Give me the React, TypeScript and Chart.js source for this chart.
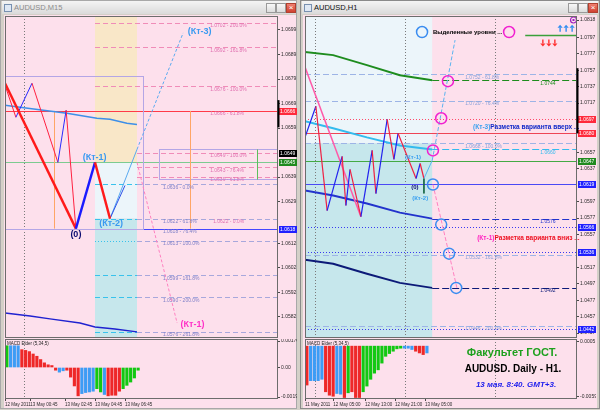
import { useEffect, useRef } from 'react';
import { Chart, registerables } from 'chart.js';

Chart.register(...registerables);

const FONT = "'Liberation Sans', Arial, sans-serif";
Chart.defaults.font.family = FONT;

/* ================= LEFT WINDOW : AUDUSD,M15 ================= */
const L_X_MAX = 72.8;
const L_PRICE_MIN = 1.05734;
const L_PRICE_MAX = 1.07047;
const L_PRICE_TICKS = [1.0699, 1.0689, 1.0679, 1.0669, 1.0659, 1.0639, 1.0629, 1.0612, 1.0602, 1.0592, 1.0582];
const L_TIME_TICKS = [0, 6.7, 16, 24, 32];
const L_TIME_LABELS = ['12 May 2011', '13 May 00:45', '13 May 02:45', '13 May 04:45', '13 May 06:45'];
const L_GRID_X = [5.1];

const L_SWING_X = [0, 2.9, 7.2, 14.1, 16.3, 18.9];
const L_SWING_Y = [1.06765, 1.06634, 1.06773, 1.0645, 1.06663, 1.0618];
const L_WAVE_X = [0, 18.9, 24, 28];
const L_WAVE_Y = [1.06773, 1.0618, 1.0645, 1.06221];
const L_UP_X = [28, 35.2, 47.5];
const L_UP_Y = [1.06221, 1.06503, 1.06978];
const L_UP2_X = [28, 32];
const L_UP2_Y = [1.06221, 1.06356];
const L_DOWN_X = [35.2, 45.9];
const L_DOWN_Y = [1.0645, 1.05795];
const L_MA1_X = [0, 4, 16.5, 24.5, 28, 32.5, 35.2];
const L_MA1_Y = [1.06683, 1.06675, 1.0665, 1.0663, 1.06626, 1.0661, 1.06605];
const L_MA2_X = [0, 6.7, 12, 20, 24, 29.3, 35.2];
const L_MA2_Y = [1.05836, 1.05824, 1.05812, 1.05795, 1.05779, 1.05771, 1.05759];

const L_ZONE_X = [24, 35.2];
const L_ZONE_PRICES = [1.0645, 1.06221];
const L_BOX1 = [0, 37, 1.06802, 1.0618];
const L_BOX2 = [41, 72.8, 1.06503, 1.0638];
const L_BOX2_MARK_X = 67.2;
const L_TIME_MARKS_X = [13, 49.3];
const L_TIME_MARKS_Y = [1.0666, 1.0618];

const L_LEVEL_RED = 1.0666;
const L_LEVEL_GREEN = 1.0645;
const L_LEVEL_BLUE = 1.0618;

const L_FIB_A = [1.0702, 1.0692, 1.0676, 1.0666];
const L_FIB_A_TEXT = ['1.0702 - 200.0%', '1.0692 - 161.8%', '1.0676 - 100.0%', '1.0666 - 61.8%'];
const L_FIB_B = [1.0649, 1.0643, 1.0639];
const L_FIB_B_TEXT = ['1.0649 - 100.0%', '1.0643 - 76.4%', '1.0639 - 61.8%'];
const L_FIB_C = [1.0636, 1.0622, 1.0618, 1.0613, 1.0599, 1.059, 1.0576];
const L_FIB_C_TEXT = ['1.0636 - 0.0%', '1.0622 - 61.8%', '1.0618 - 76.4%', '1.0613 - 100.0%', '1.0599 - 161.8%', '1.0590 - 200.0%', '1.0576 - 261.8%'];
const L_FIB_ZERO = 1.0622;
const L_FIB_ZERO_TEXT = '1.0622 - 0.0%';

const L_AXIS_PRICES = [1.0666, 1.0649, 1.0645, 1.0618];
const L_AXIS_TEXT = ['1.0666', '1.0649', '1.0645', '1.0618'];
const L_AXIS_BAR = [1.06704, 1.06593];

const L_TAGS = ['(Кт-3)', '(Кт-1)', '(0)', '(Кт-2)', '(Кт-1)'];
const L_TAGS_X = [51.9, 23.9, 18.9, 28.3, 50];
const L_TAGS_Y = [1.06982, 1.0647, 1.06155, 1.062, 1.05787];

const L_MACD = [0.00145, 0.00145, 0.00145, 0.00145, 0.00119, 0.00114, 0.00106, 0.0009, 0.00075, 0.00053, 0.00031, 0.00018, 0.00013, -0.00018,
  -0.00031, -0.00022, -0.00018, -0.00064, -0.00123, -0.00189, -0.00174, -0.00167, -0.00163, -0.00158, -0.00141, -0.00163, -0.0018,
  -0.00189, -0.00185, -0.00185, -0.00158, -0.00141, -0.00119, -0.00097, -0.0007, -0.00018];
const L_MACD_STATE = 'gbbbrrrrrrrrrrbbrrrrbbbbggbrrrrggggg';
const L_MACD_MIN = -0.0021;
const L_MACD_MAX = 0.0019;
const L_MACD_TICKS = [0.00176, 0, -0.00197];
const L_MACD_LABELS = ['0.00176', '0.00', '-0.00197'];

/* ================= RIGHT WINDOW : AUDUSD,H1 ================= */
const R_X_MAX = 72.5;
const R_PRICE_MIN = 1.0431;
const R_PRICE_MAX = 1.08229;
const R_PRICE_TICKS = [1.0818, 1.0797, 1.0777, 1.0757, 1.0737, 1.0717, 1.0657, 1.0637, 1.0597, 1.0577, 1.0557, 1.0517, 1.0497, 1.0477, 1.0457, 1.0437];
const R_TIME_TICKS = [0, 7.5, 16, 24, 32];
const R_TIME_LABELS = ['11 May 2011', '12 May 05:00', '12 May 13:00', '12 May 21:00', '13 May 05:00'];
const R_GRID_X = [2.7, 26.7, 50.7];

const R_ZONE_X = 33.9;
const R_ZONE_PRICE = 1.0668;

const R_MA_X = [0, 7.5, 16.5, 25.3, 33.9];
const R_MA_GREEN = [1.0779, 1.07753, 1.07631, 1.07509, 1.07448];
const R_MA_CYAN = [1.06947, 1.06862, 1.06752, 1.06654, 1.06605];
const R_MA_BLUE = [1.06105, 1.06044, 1.05946, 1.05836, 1.05763];
const R_MA_NAVY = [1.05262, 1.05213, 1.05091, 1.04981, 1.0492];
const R_MA_TEXT = ['1.0744', '1.0660', '1.0576', '1.0492'];

const R_SWING_X = [0, 2.9, 5.9, 9.9, 10.9, 12, 14.9, 17.9, 18.9, 21.9, 23.7, 24.8, 29.6, 30.7, 31.7];
const R_SWING_Y = [1.06752, 1.0713, 1.05861, 1.0652, 1.05922, 1.06361, 1.05787, 1.06593, 1.06068, 1.06972, 1.06483, 1.06801, 1.06251, 1.06434, 1.06251];
const R_PINK_X = [0, 14.9];
const R_PINK_Y = [1.07607, 1.05787];
const R_UP_X = [31.7, 33.9, 40];
const R_UP_Y = [1.06251, 1.0647, 1.07936];
const R_DOWN_X = [34.1, 40.5];
const R_DOWN_Y = [1.06178, 1.0492];
const R_PIN_X = [31.7, 31.7];
const R_PIN_Y = [1.06251, 1.0607];

const R_MAG_X = [34.1, 36.3, 38.1];
const R_MAG_Y = [1.06593, 1.06984, 1.07436];
const R_BLU_X = [34.1, 36.3, 38.4, 40.3];
const R_BLU_Y = [1.06178, 1.0569, 1.05336, 1.0492];
const R_HEAD_BLUE_X = [31.2];
const R_HEAD_MAG_X = [54.4];
const R_HEAD_Y = [1.08034];
const R_HEAD_TEXT = 'Выделенные уровни ...';
const R_HEAD_TEXT_X = 34.1;

const R_FIB = [1.0752, 1.072, 1.0668, 1.0532, 1.0446];
const R_FIB_TEXT = ['1.0752 - 61.8%', '1.0720 - 76.4%', '1.0668 - 100.0%', '1.0532 - 161.8%', '1.0446 - 200.0%'];
const R_RED_DOTTED = 1.0697;
const R_RED = 1.068;
const R_GREEN = 1.0647;
const R_BLUE = 1.0619;
const R_BLUE_DOTTED = [1.0566, 1.0536, 1.0442];
const R_AXIS_PRICES = [1.0697, 1.068, 1.0647, 1.0619, 1.0566, 1.0536, 1.0442];
const R_AXIS_TEXT = ['1.0697', '1.0680', '1.0647', '1.0619', '1.0566', '1.0536', '1.0442'];
const R_AXIS_BAR = [1.07594, 1.068];
const R_TARGET = [58.7, 1.07997];
const R_ARROW_UP = [69.6, 1.08075];
const R_ARROW_DOWN = [65, 1.07905];

const R_TAGS = ['(Кт-1)', '(0)', '(Кт-2)'];
const R_TAGS_X = [28.8, 29.3, 30.7];
const R_TAGS_Y = [1.06508, 1.06141, 1.06007];
const R_NOTE_HEAD = ['(Кт-3)', '(Кт-1)'];
const R_NOTE_BODY = ['Разметка варианта вверх ...', 'Разметка варианта вниз ...'];
const R_NOTE_X = [44.8, 45.9];
const R_NOTE_Y = [1.0687, 1.05519];

const R_MACD = [-0.00452, -0.00401, -0.00401, -0.00401, -0.00385, -0.0053, -0.0057, -0.00582, -0.0055, -0.00558, -0.00597, -0.00542,
  -0.0053, -0.00597, -0.00597, -0.0053, -0.00464, -0.00385, -0.00314, -0.00275, -0.00197, -0.00118, -0.00086, -0.00059, -0.00031,
  -0.00024, -0.00024, -0.00024, -0.00039, -0.00059, -0.00079, -0.00098, -0.00079];
const R_MACD_STATE = 'rbbbbrrrbbrgrrrgggggggggggbbbrrrb';
const R_MACD_MIN = -0.00614;
const R_MACD_MAX = 0.00083;
const R_MACD_TICKS = [0.0005, -0.0059];
const R_MACD_LABELS = ['0.0005', '-0.0059'];

const BRAND = ['Факультет ГОСТ.', 'AUDUSD. Daily - H1.', '13 мая. 8:40. GMT+3.'];

/* ================= drawing helpers ================= */
type Area = { left: number; right: number; top: number; bottom: number };
type D = { ctx: CanvasRenderingContext2D; a: Area; X: (v: number) => number; Y: (v: number) => number };
type Draw = (d: D) => void;

const SMALL = `5px ${FONT}`;
const pts = (xs: number[], ys: number[]) => xs.map((x, i) => ({ x, y: ys[i] }));

function decor(id: string, under: Draw, over: Draw, top: Draw) {
  const run = (chart: any, fn: Draw) => {
    const ctx = chart.ctx as CanvasRenderingContext2D;
    const a = chart.chartArea as Area;
    const X = (v: number) => chart.scales.x.getPixelForValue(v);
    const Y = (v: number) => chart.scales.y.getPixelForValue(v);
    ctx.save();
    fn({ ctx, a, X, Y });
    ctx.restore();
  };
  return {
    id,
    beforeDatasetsDraw: (c: any) => run(c, under),
    afterDatasetsDraw: (c: any) => run(c, over),
    afterDraw: (c: any) => run(c, top),
  };
}

function seg(ctx: CanvasRenderingContext2D, x0: number, y0: number, x1: number, y1: number, color: string, w = 1, dash: number[] = []) {
  ctx.beginPath();
  ctx.strokeStyle = color;
  ctx.lineWidth = w;
  ctx.setLineDash(dash);
  ctx.moveTo(x0, y0);
  ctx.lineTo(x1, y1);
  ctx.stroke();
  ctx.setLineDash([]);
}
function hl(d: D, x0: number, x1: number, p: number, color: string, w = 1, dash: number[] = []) {
  const y = Math.round(d.Y(p)) + 0.5;
  seg(d.ctx, x0, y, x1, y, color, w, dash);
}
function vl(d: D, i: number, p0: number, p1: number, color: string, w = 1, dash: number[] = []) {
  const x = Math.round(d.X(i)) + 0.5;
  seg(d.ctx, x, d.Y(p0), x, d.Y(p1), color, w, dash);
}
function txt(ctx: CanvasRenderingContext2D, s: string, x: number, y: number, font: string, color: string, align: CanvasTextAlign = 'left') {
  ctx.font = font;
  ctx.fillStyle = color;
  ctx.textAlign = align;
  ctx.textBaseline = 'middle';
  ctx.fillText(s, x, y);
}
function clip(d: D) {
  d.ctx.beginPath();
  d.ctx.rect(d.a.left, d.a.top, d.a.right - d.a.left, d.a.bottom - d.a.top);
  d.ctx.clip();
}
function frame(d: D) {
  d.ctx.strokeStyle = '#6c6c6c';
  d.ctx.lineWidth = 1;
  d.ctx.strokeRect(d.a.left + 0.5, d.a.top + 0.5, d.a.right - d.a.left - 1, d.a.bottom - d.a.top - 1);
}
function axisTag(d: D, p: number, s: string, bg: string) {
  const y = Math.round(d.Y(p));
  d.ctx.fillStyle = bg;
  d.ctx.fillRect(d.a.right + 1, y - 3, 18, 7);
  txt(d.ctx, s, d.a.right + 2, y + 0.5, SMALL, '#ffffff');
}
function axisBar(d: D, p0: number, p1: number) {
  seg(d.ctx, d.a.right + 0.5, d.Y(p0), d.a.right + 0.5, d.Y(p1), '#000000', 2);
}
function gridX(d: D, xs: number[]) {
  xs.forEach((i) => {
    const x = Math.round(d.X(i)) + 0.5;
    seg(d.ctx, x, d.a.top, x, d.a.bottom, '#7a7a7a', 1, [1, 2]);
  });
}
function circle(ctx: CanvasRenderingContext2D, x: number, y: number, r: number, color: string, w = 1.5) {
  ctx.beginPath();
  ctx.strokeStyle = color;
  ctx.lineWidth = w;
  ctx.arc(x, y, r, 0, Math.PI * 2);
  ctx.stroke();
}
function arrows(ctx: CanvasRenderingContext2D, cx: number, cy: number, up: boolean, color: string) {
  ctx.fillStyle = color;
  ctx.strokeStyle = color;
  for (let k = -1; k <= 1; k++) {
    const x = cx + k * 6;
    const dir = up ? -1 : 1;
    ctx.beginPath();
    ctx.moveTo(x, cy + dir * 4);
    ctx.lineTo(x - 2.6, cy + dir * 1);
    ctx.lineTo(x + 2.6, cy + dir * 1);
    ctx.closePath();
    ctx.fill();
    ctx.lineWidth = 1.4;
    ctx.beginPath();
    ctx.moveTo(x, cy + dir * 1);
    ctx.lineTo(x, cy - dir * 3);
    ctx.stroke();
  }
}

const lineDs = (xs: number[], ys: number[], color: string, width: number, extra: any = {}) => ({
  type: 'line',
  data: pts(xs, ys),
  borderColor: color,
  borderWidth: width,
  pointRadius: 0,
  fill: false,
  tension: 0,
  ...extra,
});
const ringDs = (xs: number[], ys: number[], color: string) => ({
  type: 'line',
  data: pts(xs, ys),
  showLine: false,
  pointRadius: 5.5,
  pointBorderWidth: 1.5,
  pointBorderColor: color,
  pointBackgroundColor: 'rgba(0,0,0,0)',
});
const zigzag = (up: string, down: string) => ({
  borderColor: (c: any) => (c.p1.parsed.y > c.p0.parsed.y ? up : down),
});

function priceAxis(min: number, max: number, ticks: number[], labels?: string[]) {
  return {
    type: 'linear',
    position: 'right',
    min,
    max,
    afterBuildTicks: (s: any) => {
      s.ticks = ticks.map((v) => ({ value: v }));
    },
    afterFit: (s: any) => {
      s.width = 19;
      s.paddingTop = 0;
      s.paddingBottom = 0;
    },
    ticks: {
      autoSkip: false,
      padding: 1,
      color: '#2a2a2a',
      font: { size: 5, family: FONT },
      callback: (v: number, i: number) => (labels ? labels[i] : v.toFixed(4)),
    },
    grid: { drawOnChartArea: false, drawTicks: true, tickLength: 2, color: '#4a4a4a' },
    border: { display: false },
  };
}

function buildMain(canvas: HTMLCanvasElement, xMax: number, yMin: number, yMax: number, ticks: number[], datasets: any[], plugin: any) {
  return new Chart(canvas, {
    type: 'line',
    data: { datasets },
    options: {
      animation: false,
      responsive: false,
      maintainAspectRatio: false,
      layout: { padding: 0, autoPadding: false },
      plugins: { legend: { display: false }, tooltip: { enabled: false } },
      scales: {
        x: { type: 'linear', min: 0, max: xMax, display: false },
        y: priceAxis(yMin, yMax, ticks),
      },
    } as any,
    plugins: [plugin],
  } as any);
}

function buildMacd(
  canvas: HTMLCanvasElement, xMax: number, values: number[], states: string, yMin: number, yMax: number,
  ticks: number[], tickLabels: string[], timeTicks: number[], timeLabels: string[], grid: number[], overlay: Draw,
) {
  const colorOf = (s: string) => (s === 'g' ? '#12c812' : s === 'b' ? '#3d9cf5' : '#ee2828');
  return new Chart(canvas, {
    type: 'bar',
    data: {
      datasets: [
        {
          data: values.map((v, i) => ({ x: i + 0.5, y: v })),
          backgroundColor: states.split('').map(colorOf),
          barThickness: 2.5,
          borderWidth: 0,
        },
      ],
    },
    options: {
      animation: false,
      responsive: false,
      maintainAspectRatio: false,
      layout: { padding: 0, autoPadding: false },
      plugins: { legend: { display: false }, tooltip: { enabled: false } },
      scales: {
        x: {
          type: 'linear',
          min: 0,
          max: xMax,
          offset: false,
          position: 'bottom',
          afterBuildTicks: (s: any) => {
            s.ticks = timeTicks.map((v) => ({ value: v }));
          },
          afterFit: (s: any) => {
            s.height = 11;
            s.paddingLeft = 0;
            s.paddingRight = 0;
          },
          ticks: {
            autoSkip: false,
            maxRotation: 0,
            align: 'start',
            padding: 1,
            color: '#2a2a2a',
            font: { size: 4.5, family: FONT },
            callback: (_v: number, i: number) => timeLabels[i],
          },
          grid: { drawOnChartArea: false, drawTicks: true, tickLength: 2, color: '#4a4a4a', offset: false },
          border: { display: false },
        },
        y: priceAxis(yMin, yMax, ticks, tickLabels),
      },
    } as any,
    plugins: [
      decor(
        'macd' + Math.random(),
        (d) => gridX(d, grid),
        (d) => {
          frame(d);
          txt(d.ctx, 'MACD Elder (5,34,5)', d.a.left + 2, d.a.top + 5, `4.5px ${FONT}`, '#222');
          overlay(d);
        },
        () => {},
      ),
    ],
  } as any);
}

/* ================= left main ================= */
function buildLeft(canvas: HTMLCanvasElement) {
  const datasets = [
    lineDs(L_WAVE_X, L_WAVE_Y, '#ff1a1a', 2.4, { segment: zigzag('#1a1aff', '#ff1a1a') }),
    lineDs(L_SWING_X, L_SWING_Y, '#ff2040', 1, { segment: zigzag('#2a2aff', '#ff2040') }),
    lineDs(L_UP2_X, L_UP2_Y, '#3050e8', 1),
    lineDs(L_UP_X, L_UP_Y, '#5aaaf0', 1, { segment: { borderDash: (c: any) => (c.p0DataIndex >= 1 ? [3, 2] : undefined) } }),
    lineDs(L_DOWN_X, L_DOWN_Y, '#ff80c0', 1, { borderDash: [3, 2] }),
    lineDs(L_MA1_X, L_MA1_Y, '#3d8fe8', 1.5),
    lineDs(L_MA2_X, L_MA2_Y, '#1f22d0', 1.5),
  ];
  const plugin = decor(
    'leftDecor',
    (d) => {
      const { ctx, a, X, Y } = d;
      clip(d);
      const x0 = X(L_ZONE_X[0]);
      const x1 = X(L_ZONE_X[1]);
      ctx.fillStyle = '#f9e7c8';
      ctx.fillRect(x0, a.top, x1 - x0, Y(L_ZONE_PRICES[0]) - a.top);
      ctx.fillStyle = '#ecf5fa';
      ctx.fillRect(x0, Y(L_ZONE_PRICES[0]), x1 - x0, Y(L_ZONE_PRICES[1]) - Y(L_ZONE_PRICES[0]));
      ctx.fillStyle = '#c6e7ec';
      ctx.fillRect(x0, Y(L_ZONE_PRICES[1]), x1 - x0, a.bottom - Y(L_ZONE_PRICES[1]));
      gridX(d, L_GRID_X);
      L_FIB_A.forEach((p) => hl(d, x0, a.right, p, '#f08cb8', 1, [5, 3]));
      L_FIB_B.forEach((p) => hl(d, x1, a.right, p, '#f08cb8', 1, [5, 3]));
      L_FIB_C.forEach((p, i) => {
        hl(d, x0, x1, p, '#38c2ec', 1, i === 3 ? [1, 2] : [5, 3]);
        hl(d, x1, a.right, p, '#a8a8dc', 1, [5, 3]);
      });
      hl(d, a.left, a.right, L_LEVEL_RED, '#ff3a48', 1.2);
      hl(d, a.left, a.right, L_LEVEL_GREEN, '#7ccb90', 1);
      hl(d, a.left, a.right, L_LEVEL_BLUE, '#4646ff', 1.2);
      ctx.strokeStyle = '#b4a6e6';
      ctx.lineWidth = 1;
      [L_BOX1, L_BOX2].forEach((b) => {
        const bx = Math.round(X(b[0])) + 0.5;
        const by = Math.round(Y(b[2])) + 0.5;
        ctx.strokeRect(bx, by, Math.round(X(b[1]) - X(b[0])) - 1, Math.round(Y(b[3]) - Y(b[2])));
      });
      vl(d, L_BOX2_MARK_X, L_BOX2[2], L_BOX2[3], '#5cc05c');
      L_TIME_MARKS_X.forEach((i) => vl(d, i, L_TIME_MARKS_Y[0], L_TIME_MARKS_Y[1], '#ffa565'));
      const lx = X(54.7);
      L_FIB_A.forEach((p, i) => txt(ctx, L_FIB_A_TEXT[i], lx, Y(p) + 3, SMALL, '#e070b0'));
      L_FIB_B.forEach((p, i) => txt(ctx, L_FIB_B_TEXT[i], lx, Y(p) + 3, SMALL, '#e070b0'));
      const cx = X(42.1);
      L_FIB_C.forEach((p, i) => txt(ctx, L_FIB_C_TEXT[i], cx, Y(p) + 3, SMALL, '#8080c8'));
      txt(ctx, L_FIB_ZERO_TEXT, X(55.5), Y(L_FIB_ZERO) + 3, SMALL, '#e070b0');
    },
    (d) => {
      const { ctx, X, Y } = d;
      const colors = ['#3a9af0', '#3a9af0', '#0a0a70', '#3a9af0', '#ff30c8'];
      L_TAGS.forEach((s, i) => txt(ctx, s, X(L_TAGS_X[i]), Y(L_TAGS_Y[i]), `bold 9px ${FONT}`, colors[i], 'center'));
      frame(d);
    },
    (d) => {
      const colors = ['#ff2a3c', '#000000', '#1f8a1f', '#2020ff'];
      L_AXIS_PRICES.forEach((p, i) => axisTag(d, p, L_AXIS_TEXT[i], colors[i]));
      axisBar(d, L_AXIS_BAR[0], L_AXIS_BAR[1]);
    },
  );
  return buildMain(canvas, L_X_MAX, L_PRICE_MIN, L_PRICE_MAX, L_PRICE_TICKS, datasets, plugin);
}

/* ================= right main ================= */
function buildRight(canvas: HTMLCanvasElement) {
  const datasets = [
    ringDs(R_MAG_X, R_MAG_Y, '#f020d0'),
    ringDs(R_BLU_X, R_BLU_Y, '#3a8cf0'),
    ringDs(R_HEAD_BLUE_X, R_HEAD_Y, '#3a8cf0'),
    ringDs(R_HEAD_MAG_X, R_HEAD_Y, '#f020d0'),
    lineDs(R_UP_X, R_UP_Y, '#5ab4f0', 1, { segment: { borderDash: (c: any) => (c.p0DataIndex >= 1 ? [4, 2] : undefined) } }),
    lineDs(R_DOWN_X, R_DOWN_Y, '#ff80c0', 1, { borderDash: [4, 2] }),
    lineDs(R_PIN_X, R_PIN_Y, '#1a6a4a', 1),
    lineDs(R_SWING_X, R_SWING_Y, '#ee2244', 1.2, { segment: zigzag('#2222ee', '#ee2244') }),
    lineDs(R_PINK_X, R_PINK_Y, '#ff5aa8', 1.5),
    lineDs(R_MA_X, R_MA_GREEN, '#1e8c1e', 2),
    lineDs(R_MA_X, R_MA_CYAN, '#33bbee', 2),
    lineDs(R_MA_X, R_MA_BLUE, '#2233cc', 2),
    lineDs(R_MA_X, R_MA_NAVY, '#0c1a78', 2),
  ];
  const maColors = ['#1e8c1e', '#33bbee', '#2233cc', '#0c1a78'];
  const maEnds = [R_MA_GREEN, R_MA_CYAN, R_MA_BLUE, R_MA_NAVY].map((s) => s[s.length - 1]);
  const plugin = decor(
    'rightDecor',
    (d) => {
      const { ctx, a, X, Y } = d;
      clip(d);
      const xz = X(R_ZONE_X);
      ctx.fillStyle = '#ecf5fa';
      ctx.fillRect(a.left, a.top, xz - a.left, Y(R_ZONE_PRICE) - a.top);
      ctx.fillStyle = '#c6e7ec';
      ctx.fillRect(a.left, Y(R_ZONE_PRICE), xz - a.left, a.bottom - Y(R_ZONE_PRICE));
      gridX(d, R_GRID_X);
      R_FIB.forEach((p) => hl(d, a.left, a.right, p, '#9db4e6', 1, [6, 3]));
      hl(d, a.left, a.right, R_RED_DOTTED, '#ff4a6a', 1, [1, 2]);
      hl(d, a.left, a.right, R_RED, '#ee4455', 1);
      hl(d, a.left, a.right, R_GREEN, '#44aa44', 1);
      hl(d, a.left, a.right, R_BLUE, '#4a4af5', 1);
      R_BLUE_DOTTED.forEach((p) => hl(d, a.left, a.right, p, '#3a3af0', 1, [1, 2]));
      maEnds.forEach((p, i) => hl(d, xz, a.right, p, maColors[i], 1, [7, 3]));
      hl(d, X(R_TARGET[0]), a.right, R_TARGET[1], '#3aa03a', 1.5);
      const fx = X(42.7);
      R_FIB.forEach((p, i) => txt(ctx, R_FIB_TEXT[i], fx, Y(p) + 3, SMALL, '#8aa0d8'));
      const mx = X(62.7);
      maEnds.forEach((p, i) => txt(ctx, R_MA_TEXT[i], mx, Y(p) + 3, SMALL, maColors[i]));
    },
    (d) => {
      const { ctx, a, X, Y } = d;
      const tagColors = ['#3aa0f0', '#0a0a70', '#3aa0f0'];
      R_TAGS.forEach((s, i) => txt(ctx, s, X(R_TAGS_X[i]), Y(R_TAGS_Y[i]), `bold 6px ${FONT}`, tagColors[i], 'center'));
      const bold = `bold 6.5px ${FONT}`;
      txt(ctx, R_HEAD_TEXT, X(R_HEAD_TEXT_X), Y(R_HEAD_Y[0]), `bold 6px ${FONT}`, '#000000');
      const headColors = ['#3aa0f0', '#ff20c0'];
      const bodyColors = ['#1028c8', '#ee1020'];
      R_NOTE_HEAD.forEach((s, i) => {
        const x = X(R_NOTE_X[i]);
        const y = Y(R_NOTE_Y[i]);
        txt(ctx, s, x, y, bold, headColors[i]);
        ctx.font = bold;
        const w = ctx.measureText(s).width;
        txt(ctx, R_NOTE_BODY[i], x + w, y, bold, bodyColors[i]);
      });
      arrows(ctx, X(R_ARROW_UP[0]), Y(R_ARROW_UP[1]), true, '#2f8cf0');
      arrows(ctx, X(R_ARROW_DOWN[0]), Y(R_ARROW_DOWN[1]), false, '#ff3030');
      circle(ctx, a.right - 3.5, a.top + 4, 3, '#a020c0', 1.2);
      ctx.fillStyle = '#a020c0';
      ctx.fillRect(a.right - 4.5, a.top + 3, 2, 2);
      frame(d);
    },
    (d) => {
      const colors = ['#ff2a3c', '#ff2a3c', '#1f8a1f', '#2020ff', '#2020ff', '#2020ff', '#2020ff'];
      R_AXIS_PRICES.forEach((p, i) => axisTag(d, p, R_AXIS_TEXT[i], colors[i]));
      axisBar(d, R_AXIS_BAR[0], R_AXIS_BAR[1]);
    },
  );
  return buildMain(canvas, R_X_MAX, R_PRICE_MIN, R_PRICE_MAX, R_PRICE_TICKS, datasets, plugin);
}

/* ================= chrome ================= */
function Btn({ left, close }: { left: number; close?: boolean }) {
  return (
    <div
      style={{
        position: 'absolute', left, top: 2, width: 8, height: 8,
        border: `1px solid ${close ? '#b04030' : '#9a9a9a'}`,
        background: close ? 'linear-gradient(#f08070,#d04030)' : 'linear-gradient(#f8f8f8,#dcdcdc)',
        color: close ? '#fff' : '#555', fontSize: 8, lineHeight: '8px', textAlign: 'center', fontFamily: FONT,
      }}
    >
      {close ? '×' : ''}
    </div>
  );
}

function TitleBar({ left, width, title, active }: { left: number; width: number; title: string; active: boolean }) {
  return (
    <div
      style={{
        position: 'absolute', left, top: 1, width, height: 13,
        background: 'linear-gradient(#f4f4f4,#dadada)', fontFamily: FONT, fontSize: 7.5,
        color: active ? '#111' : '#8c8c8c', lineHeight: '13px',
      }}
    >
      <div style={{ position: 'absolute', left: 2, top: 3, width: 6, height: 6, border: '1px solid #7890b0', background: '#dfe8f4' }} />
      <span style={{ position: 'absolute', left: 12, top: 0, whiteSpace: 'nowrap' }}>{title}</span>
      <Btn left={width - 30} />
      <Btn left={width - 20} />
      <Btn left={width - 10} close />
    </div>
  );
}

export default function App() {
  const lMain = useRef<HTMLCanvasElement>(null);
  const lMacd = useRef<HTMLCanvasElement>(null);
  const rMain = useRef<HTMLCanvasElement>(null);
  const rMacd = useRef<HTMLCanvasElement>(null);

  useEffect(() => {
    const charts = [
      buildLeft(lMain.current!),
      buildMacd(lMacd.current!, L_X_MAX, L_MACD, L_MACD_STATE, L_MACD_MIN, L_MACD_MAX, L_MACD_TICKS, L_MACD_LABELS,
        L_TIME_TICKS, L_TIME_LABELS, L_GRID_X, () => {}),
      buildRight(rMain.current!),
      buildMacd(rMacd.current!, R_X_MAX, R_MACD, R_MACD_STATE, R_MACD_MIN, R_MACD_MAX, R_MACD_TICKS, R_MACD_LABELS,
        R_TIME_TICKS, R_TIME_LABELS, R_GRID_X, (d) => {
          const cx = d.a.left + 207;
          txt(d.ctx, BRAND[0], cx, d.a.top + 14, `bold 11px ${FONT}`, '#1ea01e', 'center');
          txt(d.ctx, BRAND[1], cx + 1, d.a.top + 30, `bold 10px ${FONT}`, '#000000', 'center');
          txt(d.ctx, BRAND[2], cx + 4, d.a.top + 46, `italic bold 8px ${FONT}`, '#1a1aee', 'center');
        }),
    ];
    return () => charts.forEach((c) => c.destroy());
  }, []);

  const cv = (left: number, top: number, w: number, h: number) => ({
    position: 'absolute' as const, left, top, width: w, height: h, display: 'block',
  });

  return (
    <div style={{ position: 'fixed', left: 0, top: 0, width: 600, height: 410, background: '#d4d0c8', overflow: 'hidden' }}>
      <div style={{ position: 'absolute', left: 0, top: 0, width: 297, height: 409, border: '1px solid #a8a8a8', boxSizing: 'border-box' }} />
      <div style={{ position: 'absolute', left: 300, top: 0, width: 300, height: 409, border: '1px solid #8a8a8a', boxSizing: 'border-box' }} />
      <div style={{ position: 'absolute', left: 4, top: 15, width: 292, height: 393, background: '#fde0ec' }} />
      <div style={{ position: 'absolute', left: 303, top: 15, width: 294, height: 393, background: '#fde0ec' }} />
      <TitleBar left={2} width={294} title="AUDUSD,M15" active={false} />
      <TitleBar left={302} width={296} title="AUDUSD,H1" active />
      <canvas ref={lMain} width={292} height={322} style={cv(5, 16, 292, 322)} />
      <canvas ref={lMacd} width={292} height={71} style={cv(5, 339, 292, 71)} />
      <canvas ref={rMain} width={291} height={322} style={cv(305, 16, 291, 322)} />
      <canvas ref={rMacd} width={291} height={71} style={cv(305, 339, 291, 71)} />
    </div>
  );
}
